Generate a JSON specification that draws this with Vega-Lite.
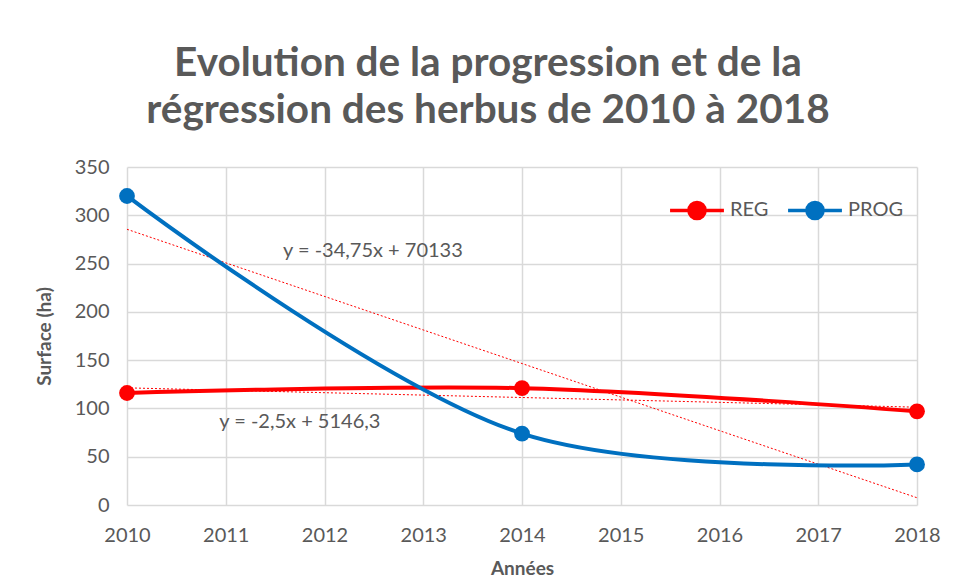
{
  "$schema": "https://vega.github.io/schema/vega-lite/v6.json",
  "autosize": {"type": "none"},
  "width": 790,
  "height": 338,
  "padding": {"left": 127, "top": 167, "right": 40, "bottom": 75},
  "background": "white",
  "title": {
    "text": ["Evolution de la progression et de la", "régression des herbus de 2010 à 2018"],
    "font": "Lato",
    "fontSize": 40.5,
    "fontWeight": "bold",
    "color": "#595959",
    "lineHeight": 47,
    "anchor": "middle",
    "dx": -34,
    "offset": 26
  },
  "datasets": {
    "series": [
      {"annee": 2010, "surface": 116, "serie": "REG"},
      {"annee": 2014, "surface": 121, "serie": "REG"},
      {"annee": 2018, "surface": 97, "serie": "REG"},
      {"annee": 2010, "surface": 320, "serie": "PROG"},
      {"annee": 2014, "surface": 74, "serie": "PROG"},
      {"annee": 2018, "surface": 42, "serie": "PROG"}
    ],
    "trends": [
      {"annee": 2010, "surface": 121.3, "serie": "REG"},
      {"annee": 2018, "surface": 101.3, "serie": "REG"},
      {"annee": 2010, "surface": 285.5, "serie": "PROG"},
      {"annee": 2018, "surface": 7.5, "serie": "PROG"}
    ],
    "labels": [
      {"annee": 2012.49, "surface": 263, "txt": "y = -34,75x + 70133"},
      {"annee": 2011.75, "surface": 86, "txt": "y = -2,5x + 5146,3"}
    ]
  },
  "config": {
    "view": {"stroke": null},
    "font": "Lato",
    "axis": {
      "labelFont": "Lato",
      "labelFontSize": 20,
      "labelColor": "#595959",
      "titleFont": "Lato",
      "titleFontSize": 19,
      "titleFontWeight": "bold",
      "titleColor": "#595959",
      "gridColor": "#d9d9d9",
      "gridWidth": 1.5,
      "domain": false,
      "ticks": false,
      "labelFlush": false
    }
  },
  "layer": [
    {
      "data": {"name": "trends"},
      "mark": {"type": "line", "strokeWidth": 1, "strokeDash": [2, 2], "color": "#ff0000"},
      "encoding": {
        "x": {"field": "annee", "type": "quantitative"},
        "y": {"field": "surface", "type": "quantitative"},
        "detail": {"field": "serie"}
      }
    },
    {
      "data": {"name": "series"},
      "mark": {"type": "line", "strokeWidth": 4, "interpolate": "catmull-rom"},
      "encoding": {
        "x": {
          "field": "annee",
          "type": "quantitative",
          "scale": {"domain": [2010, 2018], "nice": false, "zero": false},
          "axis": {"title": "Années", "format": "d", "values": [2010, 2011, 2012, 2013, 2014, 2015, 2016, 2017, 2018], "labelPadding": 20, "titlePadding": 14}
        },
        "y": {
          "field": "surface",
          "type": "quantitative",
          "scale": {"domain": [0, 350], "nice": false},
          "axis": {"title": "Surface (ha)", "values": [0, 50, 100, 150, 200, 250, 300, 350], "labelPadding": 18, "titlePadding": 20}
        },
        "color": {
          "field": "serie",
          "type": "nominal",
          "scale": {"domain": ["REG", "PROG"], "range": ["#ff0000", "#0070c0"]},
          "legend": {
            "title": null,
            "orient": "none",
            "direction": "horizontal",
            "legendX": 541,
            "legendY": 14,
            "symbolType": "M -1 0 L 1 0 M 0.3 0 A 0.3 0.3 0 1 1 -0.3 0 A 0.3 0.3 0 1 1 0.3 0 Z",
            "symbolSize": 2900,
            "symbolStrokeWidth": 3.5,
            "symbolFillColor": null,
            "labelFont": "Lato",
            "labelFontSize": 20,
            "labelColor": "#595959",
            "columnPadding": 12,
            "labelOffset": 4
          }
        }
      }
    },
    {
      "data": {"name": "series"},
      "mark": {"type": "point", "filled": true, "size": 250, "opacity": 1},
      "encoding": {
        "x": {"field": "annee", "type": "quantitative"},
        "y": {"field": "surface", "type": "quantitative"},
        "color": {"field": "serie", "type": "nominal"}
      }
    },
    {
      "data": {"name": "labels"},
      "mark": {"type": "text", "font": "Lato", "fontSize": 20, "color": "#595959"},
      "encoding": {
        "x": {"field": "annee", "type": "quantitative"},
        "y": {"field": "surface", "type": "quantitative"},
        "text": {"field": "txt"}
      }
    }
  ]
}
